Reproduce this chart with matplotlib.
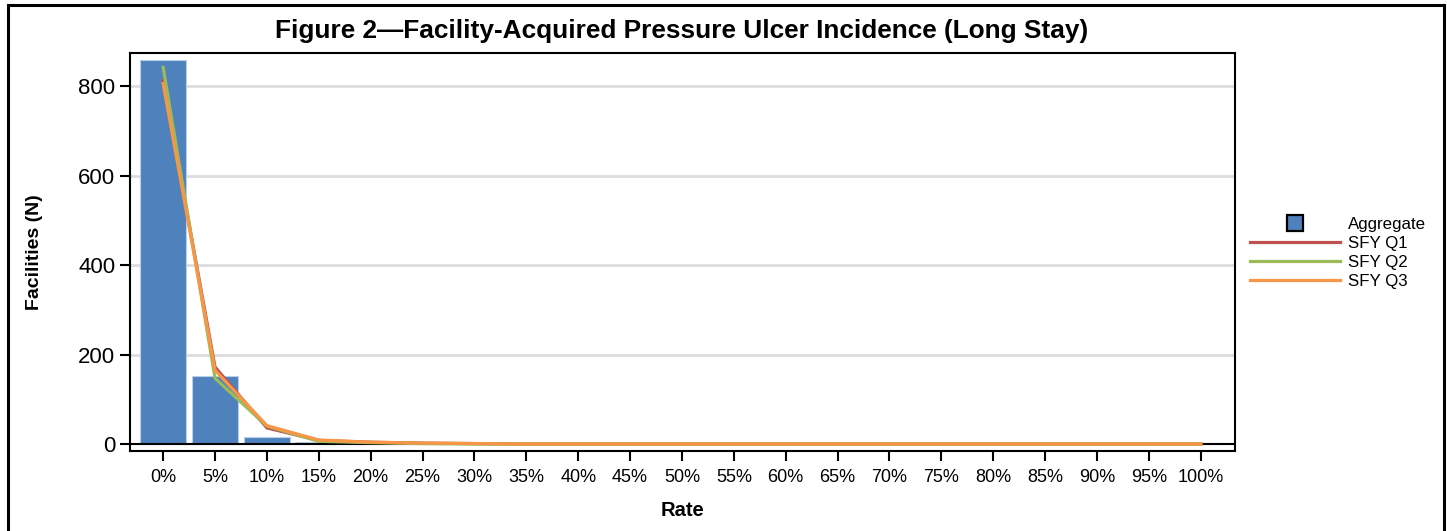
import numpy as np
import matplotlib.pyplot as plt
from matplotlib.lines import Line2D
from matplotlib.patches import Rectangle

plt.rcParams['font.family'] = ['Liberation Sans', 'DejaVu Sans']

# rate bins (percent)
rates = list(range(0, 105, 5))
labels = [str(r) + '%' for r in rates]

aggregate = [858, 152, 16, 5, 1, 0, 0, 0, 0, 0, 0, 0, 0, 0, 0, 0, 0, 0, 0, 0, 0]
sfy_q1 = [813, 172, 36, 8, 4, 2, 1, 0, 0, 0, 0, 0, 0, 0, 0, 0, 0, 0, 0, 0, 0]
sfy_q2 = [842, 147, 40, 6, 3, 1, 0, 0, 0, 0, 0, 0, 0, 0, 0, 0, 0, 0, 0, 0, 0]
sfy_q3 = [806, 165, 41, 9, 4, 2, 1, 0, 0, 0, 0, 0, 0, 0, 0, 0, 0, 0, 0, 0, 0]

c_bar = '#4F81BD'
c_q1 = '#C0504D'
c_q2 = '#9BBB59'
c_q3 = '#F79646'

fig = plt.figure(figsize=(14.47, 5.31), dpi=100)
ax = fig.add_axes([0.0898, 0.1507, 0.7637, 0.7493])

ax.bar(rates, aggregate, width=4.5, color=c_bar, edgecolor='#B8CFEA', linewidth=0.8, zorder=2)
ax.plot(rates, sfy_q1, color=c_q1, lw=2.3, zorder=3)
ax.plot(rates, sfy_q2, color=c_q2, lw=2.3, zorder=3)
ax.plot(rates, sfy_q3, color=c_q3, lw=2.3, zorder=3)

ax.set_xlim(-3.2, 103.3)
ax.set_ylim(-15.6, 874)
ax.set_xticks(rates)
ax.set_xticklabels(labels, fontsize=13)
ax.set_yticks([0, 200, 400, 600, 800])
ax.tick_params(axis='y', labelsize=16, length=7, width=1.5, direction='out')
ax.tick_params(axis='x', length=7, width=1.5, direction='out', pad=6)

for y in [200, 400, 600, 800]:
    ax.axhline(y, color='#DDDDDD', lw=2, zorder=1)
ax.axhline(0, color='black', lw=1.5, zorder=2.5)

for s in ax.spines.values():
    s.set_linewidth(1.5)

ax.set_xlabel('Rate', fontsize=14.5, fontweight='bold', labelpad=10.5)
ax.set_ylabel('Facilities (N)', fontsize=14, fontweight='bold')
ax.yaxis.set_label_coords(-0.079, 0.5)
fig.text(0.471, 0.9416, 'Figure 2\u2014Facility-Acquired Pressure Ulcer Incidence (Long Stay)',
         ha='center', va='center', fontsize=18.9, fontweight='bold')

handles = [
    Line2D([], [], marker='s', markersize=12, markerfacecolor=c_bar, markeredgecolor='black',
           markeredgewidth=1.6, linestyle='none'),
    Line2D([], [], color=c_q1, lw=2.3),
    Line2D([], [], color=c_q2, lw=2.3),
    Line2D([], [], color=c_q3, lw=2.3),
]
fig.legend(handles, ['Aggregate', 'SFY Q1', 'SFY Q2', 'SFY Q3'],
           loc='upper left', bbox_to_anchor=(0.864, 0.592), frameon=False,
           fontsize=12.2, handlelength=5.3, handletextpad=0.45, labelspacing=0.25,
           borderaxespad=0, borderpad=0)

# outer frame
fig.add_artist(Rectangle((8 / 1447, -0.1), 1436 / 1447, 1.1 - 5 / 531, transform=fig.transFigure,
                         fill=False, edgecolor='black', lw=2.2))

fig.savefig('out.png', dpi=100)
